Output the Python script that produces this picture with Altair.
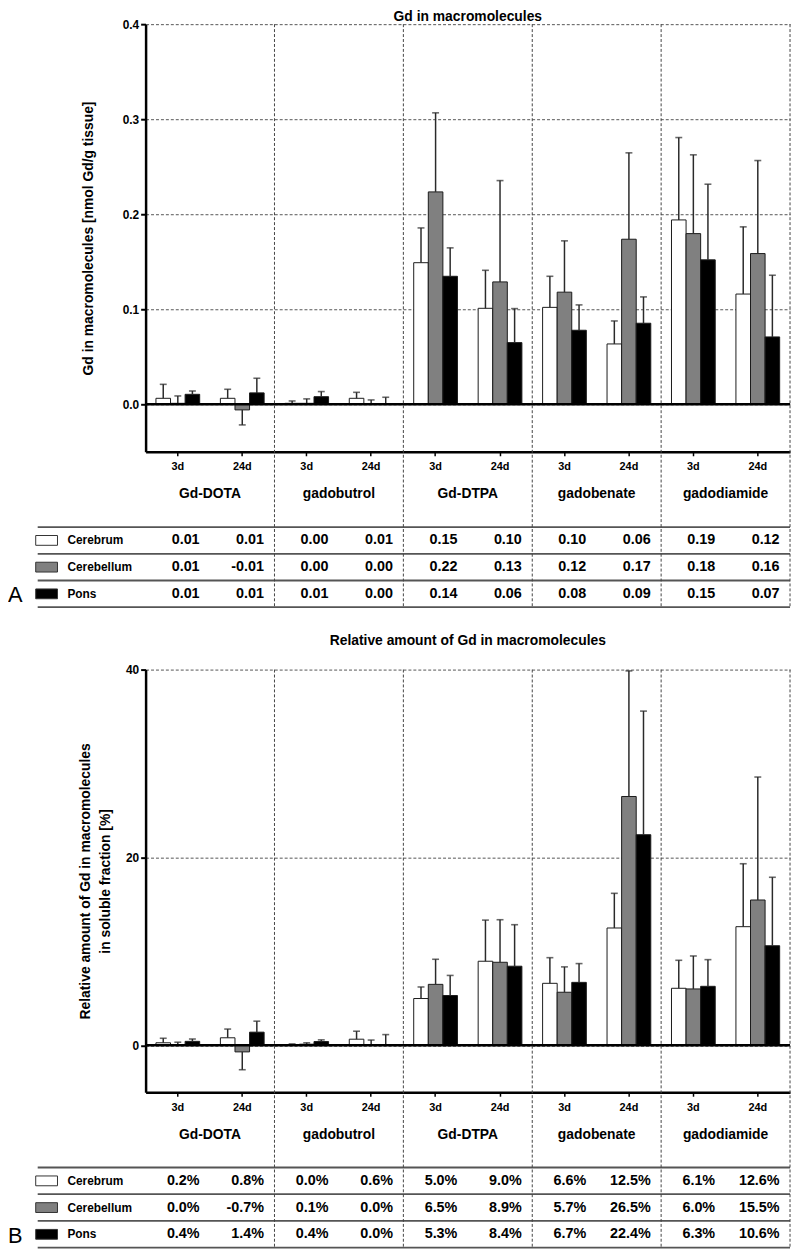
import altair as alt
import pandas as pd

FONT = "Liberation Sans"

agents = ["Gd-DOTA", "gadobutrol", "Gd-DTPA", "gadobenate", "gadodiamide"]
times = ["3d", "24d"]
regions = ["Cerebrum", "Cerebellum", "Pons"]
region_colors = ["#ffffff", "#808080", "#000000"]

# ---- Panel A: Gd in macromolecules [nmol Gd/g tissue] (order: agent x time) ----
a_cerebrum = [0.0063, 0.0063, 0.001, 0.0063, 0.149, 0.101, 0.102, 0.0635, 0.194, 0.116]
a_cerebellum = [0.001, -0.0059, 0.001, 0.0005, 0.2235, 0.1288, 0.118, 0.1737, 0.1796, 0.1586]
a_pons = [0.0105, 0.012, 0.008, 0.0, 0.1347, 0.0649, 0.0779, 0.0853, 0.152, 0.0709]
a_cerebrum_sd = [0.0147, 0.0095, 0.0025, 0.0063, 0.0366, 0.040, 0.0327, 0.0242, 0.0867, 0.0707]
a_cerebellum_sd = [0.0078, 0.0158, 0.0047, 0.0041, 0.0832, 0.1066, 0.054, 0.0909, 0.0829, 0.0979]
a_pons_sd = [0.0035, 0.0154, 0.0054, 0.0074, 0.0299, 0.0358, 0.0267, 0.0277, 0.0796, 0.0649]
a_tab_cerebrum = [0.01, 0.01, 0.00, 0.01, 0.15, 0.10, 0.10, 0.06, 0.19, 0.12]
a_tab_cerebellum = [0.01, -0.01, 0.00, 0.00, 0.22, 0.13, 0.12, 0.17, 0.18, 0.16]
a_tab_pons = [0.01, 0.01, 0.01, 0.00, 0.14, 0.06, 0.08, 0.09, 0.15, 0.07]

# ---- Panel B: relative amount [%] ----
b_cerebrum = [0.27, 0.8, 0.05, 0.65, 4.98, 8.95, 6.6, 12.49, 6.07, 12.63]
b_cerebellum = [0.05, -0.70, 0.12, 0.03, 6.49, 8.84, 5.65, 26.49, 6.0, 15.47]
b_pons = [0.42, 1.40, 0.40, 0.0, 5.30, 8.42, 6.70, 22.42, 6.28, 10.60]
b_cerebrum_sd = [0.48, 0.93, 0.1, 0.85, 1.23, 4.38, 2.73, 3.69, 2.98, 6.70]
b_cerebellum_sd = [0.28, 1.9, 0.15, 0.53, 2.67, 4.53, 2.70, 13.37, 3.51, 13.09]
b_pons_sd = [0.25, 1.17, 0.18, 1.14, 2.14, 4.42, 2.0, 13.16, 2.84, 7.29]
b_tab_cerebrum = [0.2, 0.8, 0.0, 0.6, 5.0, 9.0, 6.6, 12.5, 6.1, 12.6]
b_tab_cerebellum = [0.0, -0.7, 0.1, 0.0, 6.5, 8.9, 5.7, 26.5, 6.0, 15.5]
b_tab_pons = [0.4, 1.4, 0.4, 0.0, 5.3, 8.4, 6.7, 22.4, 6.3, 10.6]

combos = [f"{a}|{t}" for a in agents for t in times]


def build(means, sds, tabs, fmt):
    rows = []
    for r, m_list, s_list, t_list in zip(regions, means, sds, tabs):
        for c, m, s, t in zip(combos, m_list, s_list, t_list):
            rows.append(dict(combo=c, region=r, value=m,
                             end=(m - s) if m < 0 else (m + s),
                             label=fmt(t)))
    return pd.DataFrame(rows)


dfA = build([a_cerebrum, a_cerebellum, a_pons],
            [a_cerebrum_sd, a_cerebellum_sd, a_pons_sd],
            [a_tab_cerebrum, a_tab_cerebellum, a_tab_pons],
            lambda v: f"{v:.2f}")
dfB = build([b_cerebrum, b_cerebellum, b_pons],
            [b_cerebrum_sd, b_cerebellum_sd, b_pons_sd],
            [b_tab_cerebrum, b_tab_cerebellum, b_tab_pons],
            lambda v: f"{v:.1f}%")

reg_df = pd.DataFrame({"region": regions})
agent_df = pd.DataFrame({"agent": agents, "combo": [f"{a}|24d" for a in agents]})
W = 651


def panel(df, letter, title, title_offset, ytitle, ytitle_pad, ydomain, yvalues,
          yformat, h):
    tbl_range = [h + 76, h + 157]
    agent_y = h + 43
    letter_y = h + 157
    xscale = alt.Scale(domain=combos, paddingInner=0, paddingOuter=0)
    xaxis = alt.Axis(title=None, labelExpr="split(datum.label, '|')[1]",
                     labelFont=FONT, labelFontSize=11, labelFontWeight="bold",
                     labelColor="black", labelPadding=5, labelAngle=0,
                     tickSize=4, tickWidth=1.5, tickColor="black",
                     domainWidth=2.5, domainColor="black", grid=False)
    X = alt.X("combo:N", scale=xscale, axis=xaxis)
    xoff = alt.XOffset("region:N",
                       scale=alt.Scale(domain=regions, paddingInner=0, paddingOuter=0.71))
    yscale = alt.Scale(domain=ydomain, nice=False, zero=False)
    yaxis = alt.Axis(values=yvalues, format=yformat, title=ytitle,
                     labelFont=FONT, labelFontSize=12, labelFontWeight="bold",
                     labelColor="black", labelPadding=2,
                     tickSize=5, tickWidth=2, tickColor="black",
                     domainWidth=2.5, domainColor="black",
                     titleFont=FONT, titleFontSize=14, titleFontWeight="bold",
                     titleColor="black", titlePadding=ytitle_pad, titleLineHeight=20,
                     grid=True, gridColor="#555555", gridDash=[3, 2], gridWidth=1)
    fill = alt.Fill("region:N", scale=alt.Scale(domain=regions, range=region_colors),
                    legend=None)

    base = alt.Chart(df)
    bars = base.mark_bar(stroke="#1a1a1a", strokeWidth=1).encode(
        x=X, xOffset=xoff, y=alt.Y("value:Q", scale=yscale, axis=yaxis), fill=fill)
    errs = base.mark_rule(color="#2a2a2a", strokeWidth=1.5).encode(
        x=X, xOffset=xoff, y=alt.Y("value:Q", scale=yscale, axis=yaxis), y2="end:Q")
    caps = base.mark_tick(color="#2a2a2a", thickness=1.6, size=7).encode(
        x=X, xOffset=xoff, y=alt.Y("end:Q", scale=yscale, axis=yaxis))
    zero = alt.Chart(pd.DataFrame({"v": [0]})).mark_rule(
        color="black", strokeWidth=2.5).encode(
        y=alt.Y("v:Q", scale=yscale, axis=yaxis))

    tscale = alt.Scale(domain=regions, range=tbl_range, paddingInner=0, paddingOuter=0)
    top_lines = alt.Chart(reg_df).mark_rule(color="#555555", strokeWidth=1.8).encode(
        y=alt.Y("region:N", scale=tscale, axis=None, bandPosition=0),
        x=alt.value(-109), x2=alt.value(W))
    bottom_line = alt.Chart(pd.DataFrame({"region": [regions[-1]]})).mark_rule(
        color="#555555", strokeWidth=1.8).encode(
        y=alt.Y("region:N", scale=tscale, axis=None, bandPosition=1),
        x=alt.value(-109), x2=alt.value(W))
    seps = alt.Chart(agent_df).mark_rule(
        color="#444444", strokeWidth=1, strokeDash=[3, 2]).encode(
        x=alt.X("combo:N", scale=xscale, axis=xaxis, bandPosition=1),
        y=alt.value(0), y2=alt.value(tbl_range[1]))
    values = base.mark_text(align="right", dx=22, baseline="middle", font=FONT,
                            fontSize=14.5, fontWeight="bold", color="black").encode(
        x=X, y=alt.Y("region:N", scale=tscale, axis=None), text="label:N")
    row_labels = alt.Chart(reg_df).mark_text(
        align="left", baseline="middle", font=FONT, fontSize=12,
        fontWeight="bold", color="black").encode(
        x=alt.value(-79), y=alt.Y("region:N", scale=tscale, axis=None), text="region:N")
    swatches = alt.Chart(reg_df).mark_point(
        shape="M -1 -0.45 L 1 -0.45 L 1 0.45 L -1 0.45 Z", size=484, filled=True,
        opacity=1, stroke="#333333", strokeWidth=1).encode(
        x=alt.value(-100), y=alt.Y("region:N", scale=tscale, axis=None), fill=fill)
    agent_labels = alt.Chart(agent_df).mark_text(
        baseline="middle", font=FONT, fontSize=14, fontWeight="bold",
        color="black").encode(
        x=alt.X("combo:N", scale=xscale, axis=xaxis, bandPosition=0),
        y=alt.value(agent_y), text="agent:N")
    letter_mark = alt.Chart(pd.DataFrame({"t": [letter]})).mark_text(
        align="left", baseline="bottom", font=FONT, fontSize=22,
        color="black").encode(x=alt.value(-139), y=alt.value(letter_y), text="t:N")

    plot = alt.layer(bars, errs, caps, zero)
    table = alt.layer(top_lines, bottom_line, seps, values, row_labels, swatches,
                      agent_labels, letter_mark)
    return alt.layer(plot, table).resolve_scale(y="independent").properties(
        width=W, height=h,
        title=alt.Title(title, font=FONT, fontSize=14, fontWeight="bold",
                        color="black", anchor="middle", frame="group",
                        offset=title_offset))


chartA = panel(dfA, "A", "Gd in macromolecules", -6,
               "Gd in macromolecules [nmol Gd/g tissue]", 27,
               [-0.05, 0.4], [0, 0.1, 0.2, 0.3, 0.4], ".1f", 432)
chartB = panel(dfB, "B", "Relative amount of Gd in macromolecules", 16,
               ["Relative amount of Gd in macromolecules", "in soluble fraction [%]"], 13,
               [-5, 40], [0, 20, 40], ".0f", 427)

PAD = {"left": 0, "top": -4, "right": 0, "bottom": -5}
chart = alt.vconcat(chartA, chartB, spacing=26, padding=PAD).configure(
    font=FONT, padding=PAD).configure_view(strokeWidth=0)

chart.save("out.html", embed_options={"renderer": "svg", "actions": False})
